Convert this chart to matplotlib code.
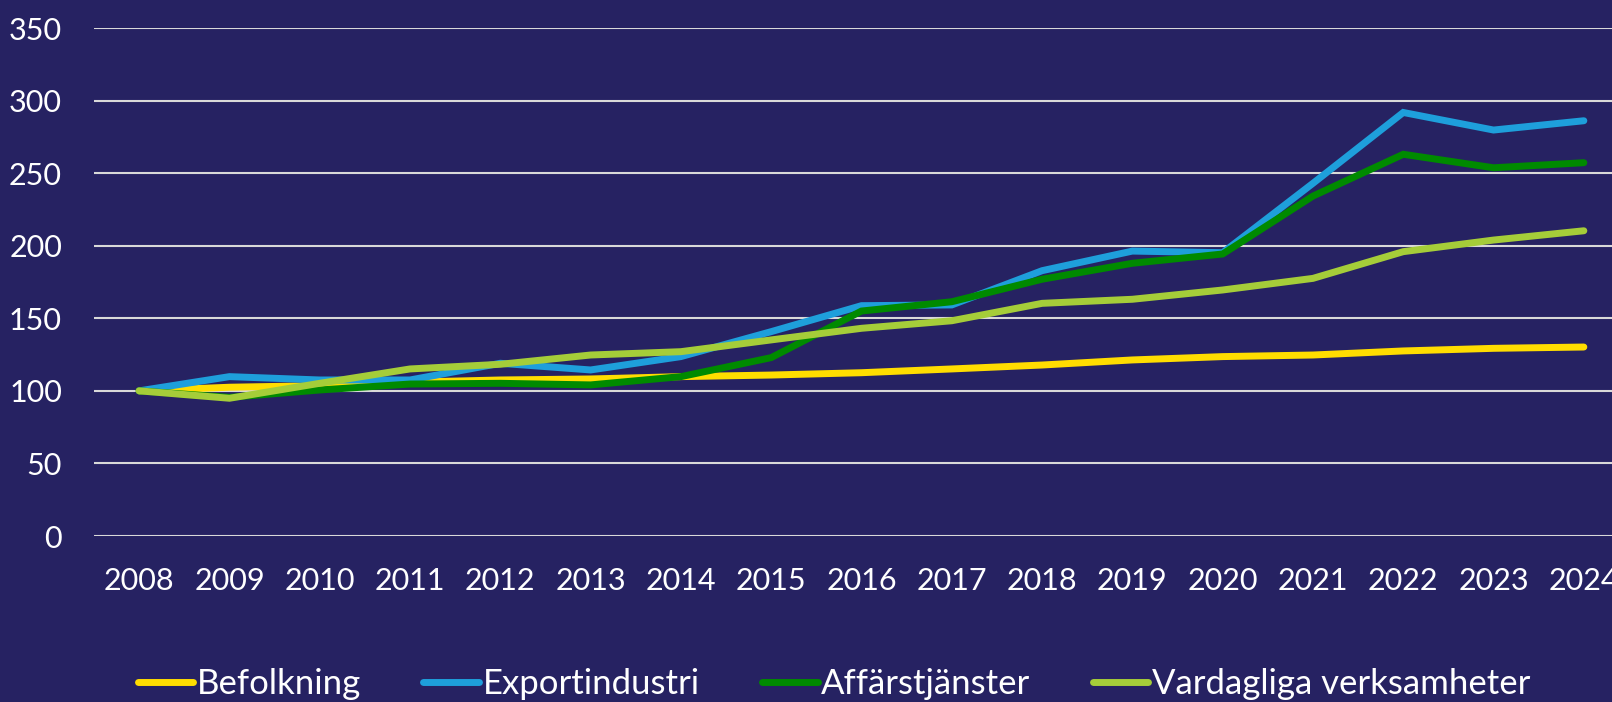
import matplotlib
matplotlib.use('Agg')
import matplotlib.pyplot as plt

# index, 2008 = 100
years = list(range(2008, 2025))
befolkning = [100, 102.5, 103.6, 106.0, 107.5, 108.2, 109.8, 110.9, 112.5, 115.1,
              117.8, 121.3, 123.6, 124.7, 127.5, 129.3, 130.2]
exportindustri = [100, 109.8, 107.5, 107.5, 119.0, 114.4, 123.6, 140.8, 158.7, 159.2,
                  182.8, 196.3, 195.2, 243.0, 291.8, 279.7, 286.1]
affarstjanster = [100, 95.5, 100.6, 104.7, 105.2, 104.1, 109.8, 122.9, 155.0, 161.4,
                  176.9, 187.9, 194.3, 234.2, 263.0, 253.7, 257.2]
vardagliga = [100, 94.9, 105.2, 115.1, 118.3, 124.7, 127.0, 135.1, 143.1, 148.3,
              160.3, 163.1, 169.5, 177.5, 195.9, 203.9, 210.3]

series_names = ['Befolkning', 'Exportindustri', 'Affärstjänster', 'Vardagliga verksamheter']
series_colors = ['#FFDD00', '#1E9FDB', '#008A00', '#A5CD39']
y_ticks = [0, 50, 100, 150, 200, 250, 300, 350]

bg = '#262262'
plt.rcParams['font.family'] = ['Lato', 'DejaVu Sans']

fig = plt.figure(figsize=(16.12, 7.02), dpi=100, facecolor=bg)
W, H = 1612, 702
ax = fig.add_axes([94 / W, 1 - 536 / H, (1629 - 94) / W, (536 - 28) / H])
ax.set_facecolor(bg)

for vals, name, col in zip([befolkning, exportindustri, affarstjanster, vardagliga],
                           series_names, series_colors):
    ax.plot(years, vals, color=col, lw=5, label=name, solid_capstyle='round',
            solid_joinstyle='miter', zorder=3)

ax.set_xlim(2007.5, 2024.5)
ax.set_ylim(0, 350)
ax.set_yticks(y_ticks)
ax.set_xticks(years)
ax.yaxis.grid(True, color='#D9D9D9', lw=1.5, zorder=1)
ax.set_axisbelow(True)
for s in ax.spines.values():
    s.set_visible(False)
ax.tick_params(axis='both', length=0, colors='white', labelsize=22)
ax.tick_params(axis='y', pad=23)
ax.tick_params(axis='x', pad=22)

leg = fig.legend(loc='center', bbox_to_anchor=(834 / W, 1 - 684 / H), ncol=4, frameon=False,
                 fontsize=25, handlelength=1.6, handletextpad=0.1, columnspacing=1.8)
for t in leg.get_texts():
    t.set_color('white')
for h in leg.get_lines():
    h.set_linewidth(5)
    h.set_solid_capstyle('round')

fig.savefig('out.png', dpi=100, facecolor=bg)
